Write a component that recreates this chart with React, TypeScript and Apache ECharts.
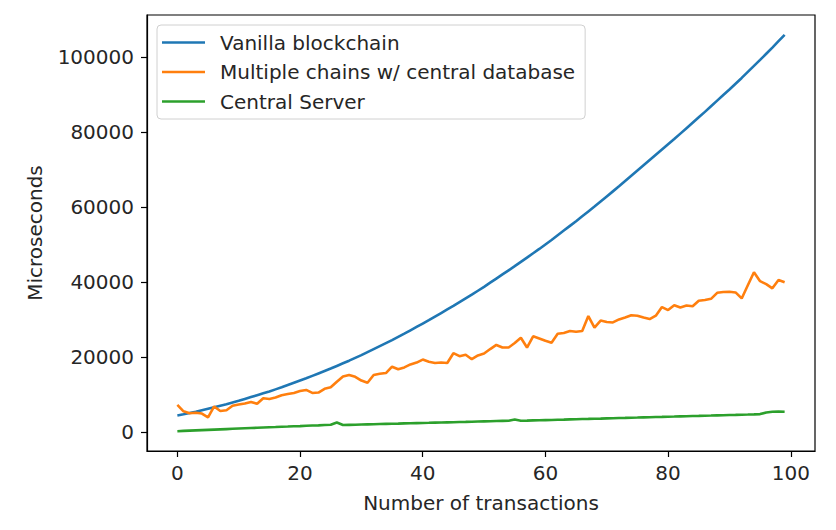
import React, { useEffect, useRef } from "react";
import * as echarts from "echarts";

const seriesNames = [
  "Vanilla blockchain",
  "Multiple chains w/ central database",
  "Central Server",
];

const vanilla = [
  4500, 4800, 5150, 5500, 5900, 6300,
  6700, 7100, 7500, 7950, 8400,
  8900, 9400, 9900, 10400, 10900,
  11450, 12000, 12600, 13200, 13800,
  14400, 15050, 15700, 16350, 17000,
  17700, 18400, 19100, 19850, 20600,
  21400, 22200, 23000, 23800, 24600,
  25450, 26300, 27200, 28100, 29000,
  29900, 30850, 31800, 32750, 33700,
  34700, 35700, 36700, 37750, 38800,
  39900, 41000, 42100, 43200, 44300,
  45450, 46600, 47750, 48900, 50100,
  51300, 52550, 53800, 55050, 56300,
  57600, 58900, 60200, 61550, 62900,
  64250, 65600, 67000, 68400, 69800,
  71200, 72600, 74000, 75400, 76800,
  78200, 79650, 81100, 82550, 84000,
  85450, 86950, 88450, 89950, 91400,
  92950, 94500, 96100, 97700, 99300,
  100950, 102600, 104300, 106000,
];

const multiChain = [
  7300, 5600, 5100, 5200, 5000, 4000, 6900, 5700, 5900, 7100,
  7400, 7700, 8100, 7600, 9100, 8900, 9300, 9900, 10200, 10500,
  11000, 11300, 10500, 10600, 11600, 12000, 13500, 14900, 15300, 14800,
  13800, 13200, 15300, 15600, 15800, 17500, 16800, 17300, 18100, 18600,
  19400, 18800, 18500, 18600, 18500, 21100, 20300, 20700, 19500, 20500,
  21000, 22200, 23300, 22600, 22600, 23800, 25200, 22600, 25600, 25000,
  24400, 23900, 26300, 26500, 27000, 26800, 27000, 31000, 27900, 29800,
  29400, 29300, 30100, 30600, 31200, 31100, 30600, 30200, 31100, 33400,
  32600, 33900, 33300, 33800, 33600, 35100, 35300, 35600, 37200, 37400,
  37500, 37300, 35700, 39200, 42700, 40300, 39500, 38400, 40600, 40000,
];

const centralServer = [
  300, 370, 440, 510, 580, 650, 720, 790, 860, 930,
  1000, 1070, 1140, 1200, 1270, 1340, 1400, 1470, 1530, 1600,
  1660, 1730, 1800, 1860, 1930, 2000, 2600, 1950, 1990, 2030,
  2070, 2110, 2150, 2200, 2240, 2280, 2320, 2370, 2410, 2450,
  2490, 2530, 2580, 2620, 2660, 2700, 2740, 2780, 2830, 2870,
  2910, 2950, 3000, 3040, 3080, 3400, 3080, 3120, 3170, 3210,
  3260, 3300, 3350, 3390, 3440, 3480, 3530, 3570, 3620, 3660,
  3710, 3750, 3800, 3840, 3890, 3930, 3980, 4020, 4070, 4110,
  4160, 4200, 4250, 4290, 4340, 4380, 4430, 4470, 4520, 4560,
  4610, 4650, 4700, 4740, 4790, 4850, 5300, 5500, 5550, 5500,
];

const xTicks = [0, 20, 40, 60, 80, 100];
const yTicks = [0, 20000, 40000, 60000, 80000, 100000];
const colors = ["#1f77b4", "#ff7f0e", "#2ca02c"];

const FONT = "DejaVu Sans";
const TXT = "#262626";
const FS = 20;

export default function App() {
  const ref = useRef<HTMLDivElement>(null);
  useEffect(() => {
    if (!ref.current) return;
    const chart = echarts.init(ref.current, null, { renderer: "svg" });
    const all = [vanilla, multiChain, centralServer];
    const flat = all.flat();
    const dataMax = Math.max(...flat);
    const dataMin = Math.min(...flat);
    const yPad = (dataMax - dataMin) * 0.05;
    const xMaxData = vanilla.length - 1;
    const xPad = xMaxData * 0.05;
    const axisLine = {
      show: true,
      onZero: false,
      lineStyle: { color: "#000", width: 1.2 },
    };
    chart.setOption({
      animation: false,
      textStyle: { fontFamily: FONT },
      grid: {
        left: 147,
        right: 21,
        top: 15,
        bottom: 79,
        show: true,
        borderColor: "#000",
        borderWidth: 1.2,
        backgroundColor: "#fff",
      },
      legend: {
        orient: "vertical",
        left: 157,
        top: 25,
        icon: "rect",
        itemWidth: 43,
        itemHeight: 2.5,
        itemGap: 6.5,
        padding: [6, 10, 6, 5],
        backgroundColor: "rgba(255,255,255,0.85)",
        borderColor: "#d0d0d0",
        borderWidth: 1,
        borderRadius: 4,
        textStyle: {
          fontFamily: FONT,
          fontSize: FS,
          color: TXT,
          lineHeight: 23,
          padding: [0, 0, 0, 10],
        },
        data: seriesNames,
      },
      xAxis: {
        type: "value",
        min: -xPad,
        max: xMaxData + xPad,
        name: "Number of transactions",
        nameLocation: "middle",
        nameGap: 42,
        nameTextStyle: { fontFamily: FONT, fontSize: FS, color: TXT },
        axisLine,
        splitLine: { show: false },
        axisTick: {
          show: true,
          inside: false,
          length: 6,
          customValues: xTicks,
          lineStyle: { color: "#000", width: 1.2 },
        },
        axisLabel: {
          customValues: xTicks,
          margin: 12,
          fontFamily: FONT,
          fontSize: FS,
          color: TXT,
          formatter: (v: number) => String(Math.round(v)),
        },
      },
      yAxis: {
        type: "value",
        min: dataMin - yPad,
        max: dataMax + yPad,
        name: "Microseconds",
        nameLocation: "middle",
        nameGap: 102,
        nameRotate: 90,
        nameTextStyle: { fontFamily: FONT, fontSize: FS, color: TXT },
        axisLine,
        splitLine: { show: false },
        axisTick: {
          show: true,
          inside: false,
          length: 6,
          customValues: yTicks,
          lineStyle: { color: "#000", width: 1.2 },
        },
        axisLabel: {
          customValues: yTicks,
          margin: 13,
          fontFamily: FONT,
          fontSize: FS,
          color: TXT,
          formatter: (v: number) => String(Math.round(v)),
        },
      },
      series: all.map((vals, si) => ({
        name: seriesNames[si],
        type: "line",
        showSymbol: false,
        symbol: "none",
        color: colors[si],
        lineStyle: { width: 2.6, color: colors[si] },
        data: vals.map((v, i) => [i, v]),
      })),
    });
    return () => chart.dispose();
  }, []);
  return <div ref={ref} style={{ width: 836, height: 530, margin: -8 }} />;
}
